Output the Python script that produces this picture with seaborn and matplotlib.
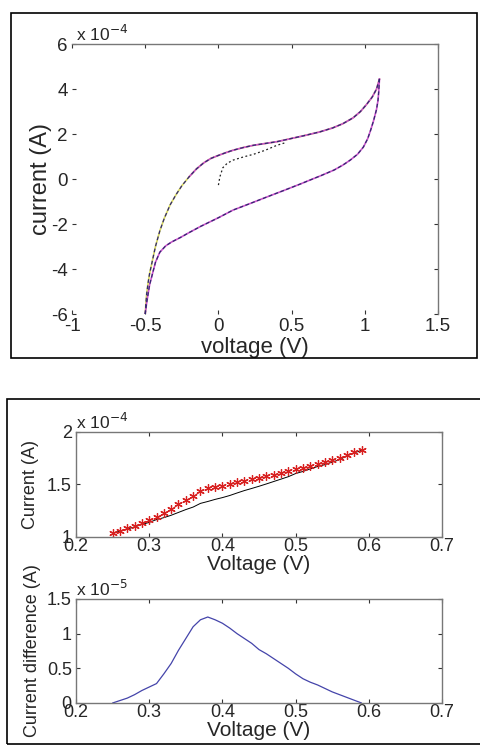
import numpy as np
import pandas as pd
import seaborn as sns
import matplotlib.pyplot as plt
from matplotlib.patches import Rectangle

# cyclic voltammogram (current in units of 1e-4 A)
init_v = [0.0, 0.01, 0.03, 0.06, 0.10, 0.17, 0.24, 0.32, 0.40, 0.45]
init_i = [-0.27, 0.10, 0.50, 0.70, 0.84, 0.98, 1.10, 1.28, 1.50, 1.60]

fwd_v = [-0.50, -0.495, -0.49, -0.48, -0.47, -0.45, -0.43, -0.40, -0.37, -0.33,
         -0.29, -0.25, -0.20, -0.15, -0.10, -0.05, 0.0, 0.05, 0.10, 0.17, 0.24,
         0.32, 0.40, 0.49, 0.58, 0.69, 0.78, 0.85, 0.92, 0.97, 1.01, 1.05, 1.08,
         1.10]
fwd_i = [-6.0, -5.5, -5.1, -4.6, -4.2, -3.6, -3.0, -2.3, -1.75, -1.15,
         -0.70, -0.30, 0.10, 0.45, 0.72, 0.92, 1.05, 1.17, 1.28, 1.40, 1.50,
         1.58, 1.66, 1.79, 1.92, 2.09, 2.27, 2.46, 2.72, 3.00, 3.30, 3.64, 4.00,
         4.45]

rev_v = [1.10, 1.095, 1.09, 1.08, 1.06, 1.04, 1.02, 0.99, 0.95, 0.90, 0.85, 0.79,
         0.70, 0.62, 0.56, 0.45, 0.33, 0.22, 0.10, 0.0, -0.12, -0.20, -0.26, -0.32,
         -0.36, -0.40, -0.43, -0.45, -0.47, -0.48, -0.49, -0.50]
rev_i = [4.45, 3.90, 3.50, 3.10, 2.60, 2.18, 1.80, 1.42, 1.10, 0.84, 0.62, 0.40,
         0.15, -0.06, -0.22, -0.50, -0.80, -1.08, -1.38, -1.72, -2.10, -2.38, -2.60,
         -2.80, -2.97, -3.25, -3.70, -4.20, -4.70, -5.10, -5.50, -6.0]

# zoom on the hump (current 1e-4 A, difference 1e-5 A)
zoom_v = [0.25, 0.26, 0.27, 0.28, 0.29, 0.30, 0.31, 0.32, 0.33, 0.34, 0.35, 0.36,
          0.37, 0.38, 0.39, 0.40, 0.41, 0.42, 0.43, 0.44, 0.45, 0.46, 0.47, 0.48,
          0.49, 0.50, 0.51, 0.52, 0.53, 0.54, 0.55, 0.56, 0.57, 0.58, 0.59]
measured_i = [1.035, 1.06, 1.083, 1.108, 1.137, 1.162, 1.194, 1.226, 1.264, 1.31,
              1.354, 1.395, 1.44, 1.462, 1.478, 1.49, 1.503, 1.519, 1.535, 1.548,
              1.56, 1.576, 1.592, 1.608, 1.624, 1.646, 1.659, 1.678, 1.697, 1.71,
              1.729, 1.748, 1.78, 1.805, 1.825]
baseline_i = [1.035, 1.056, 1.076, 1.096, 1.119, 1.139, 1.166, 1.184, 1.207, 1.234,
              1.261, 1.285, 1.32, 1.338, 1.358, 1.375, 1.395, 1.419, 1.442, 1.462,
              1.483, 1.505, 1.528, 1.551, 1.574, 1.604, 1.624, 1.648, 1.671, 1.689,
              1.713, 1.736, 1.772, 1.801, 1.825]
diff_i = [0.0, 0.035, 0.07, 0.12, 0.18, 0.23, 0.28, 0.42, 0.57, 0.76, 0.93, 1.10,
          1.20, 1.24, 1.20, 1.15, 1.08, 1.00, 0.93, 0.86, 0.77, 0.71, 0.64, 0.57,
          0.50, 0.42, 0.35, 0.30, 0.26, 0.21, 0.16, 0.12, 0.08, 0.04, 0.0]

sns.set_style("white")
plt.rcParams['font.family'] = ['Liberation Sans', 'DejaVu Sans']
plt.rcParams['axes.unicode_minus'] = False
plt.rcParams['xtick.direction'] = 'in'
plt.rcParams['ytick.direction'] = 'in'

fig = plt.figure(figsize=(4.81, 7.45), dpi=100)
fig.patches.append(Rectangle((0.0229, 0.5195), 0.969, 0.463, transform=fig.transFigure,
                             fill=False, edgecolor='black', linewidth=1.2))
fig.patches.append(Rectangle((0.0146, 0.0013), 1.0, 0.463, transform=fig.transFigure,
                             fill=False, edgecolor='black', linewidth=1.2))


def matlab_axes(ax, xticks, yticks, size, frame=True):
    ax.set_xticks(xticks)
    ax.set_yticks(yticks)
    ax.set_xticklabels(['%g' % t for t in xticks])
    ax.set_yticklabels(['%g' % t for t in yticks])
    ax.tick_params(top=True, right=True, bottom=True, left=True,
                   length=3, width=0.8, color='#333333', labelsize=size, pad=3)
    for side, sp in ax.spines.items():
        sp.set_color('#777777')
        sp.set_linewidth(1.0)
        if not frame and side in ('left', 'bottom'):
            sp.set_visible(False)


# top panel
ax = fig.add_axes([0.1497, 0.5785, 0.761, 0.3624])
sns.lineplot(x=fwd_v, y=fwd_i, sort=False, color='#d8d860', lw=1.2, ax=ax)
sns.lineplot(x=fwd_v[12:], y=fwd_i[12:], sort=False, color='#cc55cc', lw=1.2, ax=ax)
sns.lineplot(x=rev_v, y=rev_i, sort=False, color='#cc55cc', lw=1.2, ax=ax)
sns.lineplot(x=fwd_v, y=fwd_i, sort=False, color='#302870', lw=0.9,
             linestyle=(0, (3, 2)), ax=ax)
sns.lineplot(x=rev_v, y=rev_i, sort=False, color='#302870', lw=0.9,
             linestyle=(0, (3, 2)), ax=ax)
sns.lineplot(x=init_v, y=init_i, sort=False, color='#202020', lw=0.9,
             linestyle=(0, (1.5, 2)), ax=ax)
ax.set_xlim(-1, 1.5)
ax.set_ylim(-6, 6)
matlab_axes(ax, [-1, -0.5, 0, 0.5, 1, 1.5], [-6, -4, -2, 0, 2, 4, 6], 13.5, frame=False)
ax.tick_params(axis='x', pad=3)
ax.set_xlabel('voltage (V)', fontsize=16, labelpad=1)
ax.set_ylabel('current (A)', fontsize=17, labelpad=-1)
ax.text(0.01, 1.0, 'x 10$^{-4}$', transform=ax.transAxes, fontsize=12.5,
        ha='left', va='bottom')

# zoomed current
ax1 = fig.add_axes([0.158, 0.2792, 0.761, 0.141])
zoom = pd.DataFrame({'v': zoom_v, 'measured': measured_i, 'baseline': baseline_i,
                     'diff': diff_i})
sns.lineplot(data=zoom, x='v', y='baseline', color='black', lw=0.7, ax=ax1)
sns.lineplot(data=zoom, x='v', y='measured', color='#d82020', marker=(6, 2, 0),
             markersize=6, markeredgewidth=0.9, markeredgecolor='#d82020',
             linestyle='none', ax=ax1)
ax1.set_xlim(0.2, 0.7)
ax1.set_ylim(1, 2)
matlab_axes(ax1, [0.2, 0.3, 0.4, 0.5, 0.6, 0.7], [1, 1.5, 2], 13)
ax1.tick_params(axis='x', pad=1)
ax1.set_xlabel('Voltage (V)', fontsize=15, labelpad=0)
ax1.set_ylabel('Current (A)', fontsize=13, labelpad=6)
ax1.text(0.0, 1.0, 'x 10$^{-4}$', transform=ax1.transAxes, fontsize=12.5,
         ha='left', va='bottom')

# current difference
ax2 = fig.add_axes([0.158, 0.0564, 0.761, 0.1396])
sns.lineplot(data=zoom, x='v', y='diff', color='#4444aa', lw=0.9, ax=ax2)
ax2.set_xlim(0.2, 0.7)
ax2.set_ylim(0, 1.5)
matlab_axes(ax2, [0.2, 0.3, 0.4, 0.5, 0.6, 0.7], [0, 0.5, 1, 1.5], 13)
ax2.tick_params(axis='x', pad=1)
ax2.set_xlabel('Voltage (V)', fontsize=15, labelpad=0)
ax2.set_ylabel('Current difference (A)', fontsize=13, labelpad=4)
ax2.text(0.0, 1.0, 'x 10$^{-5}$', transform=ax2.transAxes, fontsize=12.5,
         ha='left', va='bottom')

fig.savefig('out.png', dpi=100)
